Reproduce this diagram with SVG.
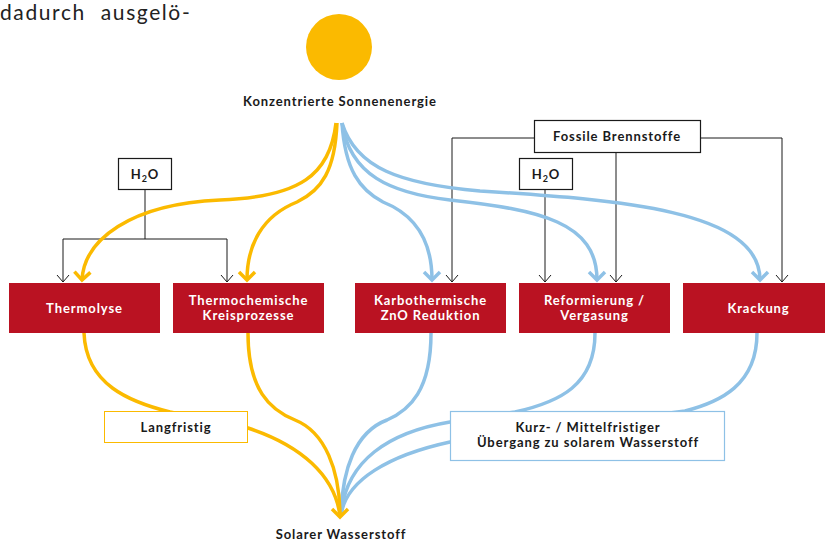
<svg xmlns="http://www.w3.org/2000/svg" width="825" height="542" viewBox="0 0 825 542">
<style>
  text { font-family: Lato, "Open Sans", "Liberation Sans", sans-serif; }
  .lbl { font-size: 13px; font-weight: 700; fill: #1a1a1a; text-anchor: middle; letter-spacing: 0.9px; }
  .wt { font-size: 13px; font-weight: 700; fill: #ffffff; text-anchor: middle; letter-spacing: 0.9px; }
  .proc { fill: #BA1222; }
  .y { fill: none; stroke: #FBBA00; stroke-width: 3.5; }
  .b { fill: none; stroke: #8EC1E6; stroke-width: 3.5; }
  .k { fill: none; stroke: #1a1a1a; stroke-width: 1; }
  .box { fill: #ffffff; stroke: #1a1a1a; stroke-width: 1.2; }
</style>
<defs>
  <marker id="ay" viewBox="-12 -12 24 24" markerWidth="24" markerHeight="24" refX="0" refY="0" orient="auto" markerUnits="userSpaceOnUse">
    <path d="M-8,-8 L0,0 L-8,8" fill="none" stroke="#FBBA00" stroke-width="3.5"/>
  </marker>
  <marker id="ab" viewBox="-12 -12 24 24" markerWidth="24" markerHeight="24" refX="0" refY="0" orient="auto" markerUnits="userSpaceOnUse">
    <path d="M-8,-8 L0,0 L-8,8" fill="none" stroke="#8EC1E6" stroke-width="3.5"/>
  </marker>
  <marker id="ak" viewBox="-10 -10 20 20" markerWidth="20" markerHeight="20" refX="0" refY="0" orient="auto" markerUnits="userSpaceOnUse">
    <path d="M-7,-6 L0,0 L-7,6" fill="none" stroke="#1a1a1a" stroke-width="1"/>
  </marker>
</defs>
<rect width="825" height="542" fill="#ffffff"/>
<text x="0" y="20" style="font-size:21px;fill:#222;letter-spacing:1.6px;word-spacing:8px">dadurch ausgelö-</text>

<g id="connectors">
  <!-- black input lines -->
  <path class="k" d="M145,189 V239"/>
  <path class="k" d="M63,239 H227"/>
  <path class="k" d="M63,239 V282" marker-end="url(#ak)"/>
  <path class="k" d="M227,239 V282" marker-end="url(#ak)"/>
  <path class="k" d="M545,189 V282" marker-end="url(#ak)"/>
  <path class="k" d="M534,138 H452 V282" marker-end="url(#ak)"/>
  <path class="k" d="M700,138 H782 V282" marker-end="url(#ak)"/>
  <path class="k" d="M616,152 V282" marker-end="url(#ak)"/>
  <!-- top curves -->
  <path class="y" d="M336,123 C330,175 300,197 220,200 C130,204 84,240 82,280" marker-end="url(#ay)"/>
  <path class="y" d="M337,123 C335,170 322,190 297,202 C262,216 247,245 247,280" marker-end="url(#ay)"/>
  <path class="b" d="M342,123 C345,170 360,190 383,202 C418,216 432,245 432,280" marker-end="url(#ab)"/>
  <path class="b" d="M342,123 C350,175 390,193 450,200 C540,210 597,222 597,280" marker-end="url(#ab)"/>
  <path class="b" d="M342,123 C356,168 400,184 480,191 C620,200 760,210 760,280" marker-end="url(#ab)"/>
  <!-- bottom curves -->
  <path class="b" d="M431,333 C431,390 410,410 387,420 C355,432 342,470 341,516"/>
  <path class="b" d="M595,333 C595,385 560,402 515,412 L450,422 C390,432 345,460 341,516"/>
  <path class="b" d="M757,333 C757,385 720,402 685,411 L450,442 C390,455 345,480 341,516"/>
  <path class="y" d="M84,333 C86,385 130,402 170,412 L248,428 C300,445 335,475 340,516"/>
  <path class="y" d="M248,333 C248,390 270,410 295,420 C325,432 340,470 340,517" marker-end="url(#ay)"/>
</g>

<g id="sun">
  <circle cx="339" cy="47" r="33" fill="#FBBA00"/>
</g>
<g id="konzentrierte">
  <text class="lbl" x="340" y="106">Konzentrierte Sonnenenergie</text>
</g>
<g id="h2o-left">
  <rect class="box" x="118.5" y="158.5" width="53" height="31"/>
  <text class="lbl" x="145" y="179">H<tspan font-size="9" dy="3">2</tspan><tspan dy="-3">O</tspan></text>
</g>
<g id="h2o-right">
  <rect class="box" x="519.5" y="158.5" width="53" height="31"/>
  <text class="lbl" x="546" y="179">H<tspan font-size="9" dy="3">2</tspan><tspan dy="-3">O</tspan></text>
</g>
<g id="fossile">
  <rect class="box" x="534.5" y="120.5" width="166" height="32"/>
  <text class="lbl" x="617" y="141">Fossile Brennstoffe</text>
</g>
<g id="thermolyse">
  <rect class="proc" x="9" y="283" width="151" height="50"/>
  <text class="wt" x="84.5" y="313">Thermolyse</text>
</g>
<g id="thermochemische">
  <rect class="proc" x="173" y="283" width="151" height="50"/>
  <text class="wt" x="248.5" y="305">Thermochemische</text>
  <text class="wt" x="248.5" y="320">Kreisprozesse</text>
</g>
<g id="karbothermische">
  <rect class="proc" x="355" y="283" width="151" height="50"/>
  <text class="wt" x="430.5" y="305">Karbothermische</text>
  <text class="wt" x="430.5" y="320">ZnO Reduktion</text>
</g>
<g id="reformierung">
  <rect class="proc" x="519" y="283" width="151" height="50"/>
  <text class="wt" x="594.5" y="305">Reformierung /</text>
  <text class="wt" x="594.5" y="320">Vergasung</text>
</g>
<g id="krackung">
  <rect class="proc" x="683" y="283" width="151" height="50"/>
  <text class="wt" x="758.5" y="313">Krackung</text>
</g>
<g id="langfristig">
  <rect x="104.5" y="411.5" width="143" height="31" fill="#ffffff" stroke="#FBBA00" stroke-width="1"/>
  <text class="lbl" x="176" y="432">Langfristig</text>
</g>
<g id="kurzfristig">
  <rect x="450.5" y="411.5" width="274" height="49" fill="#ffffff" stroke="#8EC1E6" stroke-width="1.2"/>
  <text class="lbl" x="588" y="432">Kurz- / Mittelfristiger</text>
  <text class="lbl" x="588" y="447">Übergang zu solarem Wasserstoff</text>
</g>
<g id="solarer">
  <text class="lbl" x="341" y="539">Solarer Wasserstoff</text>
</g>
</svg>
